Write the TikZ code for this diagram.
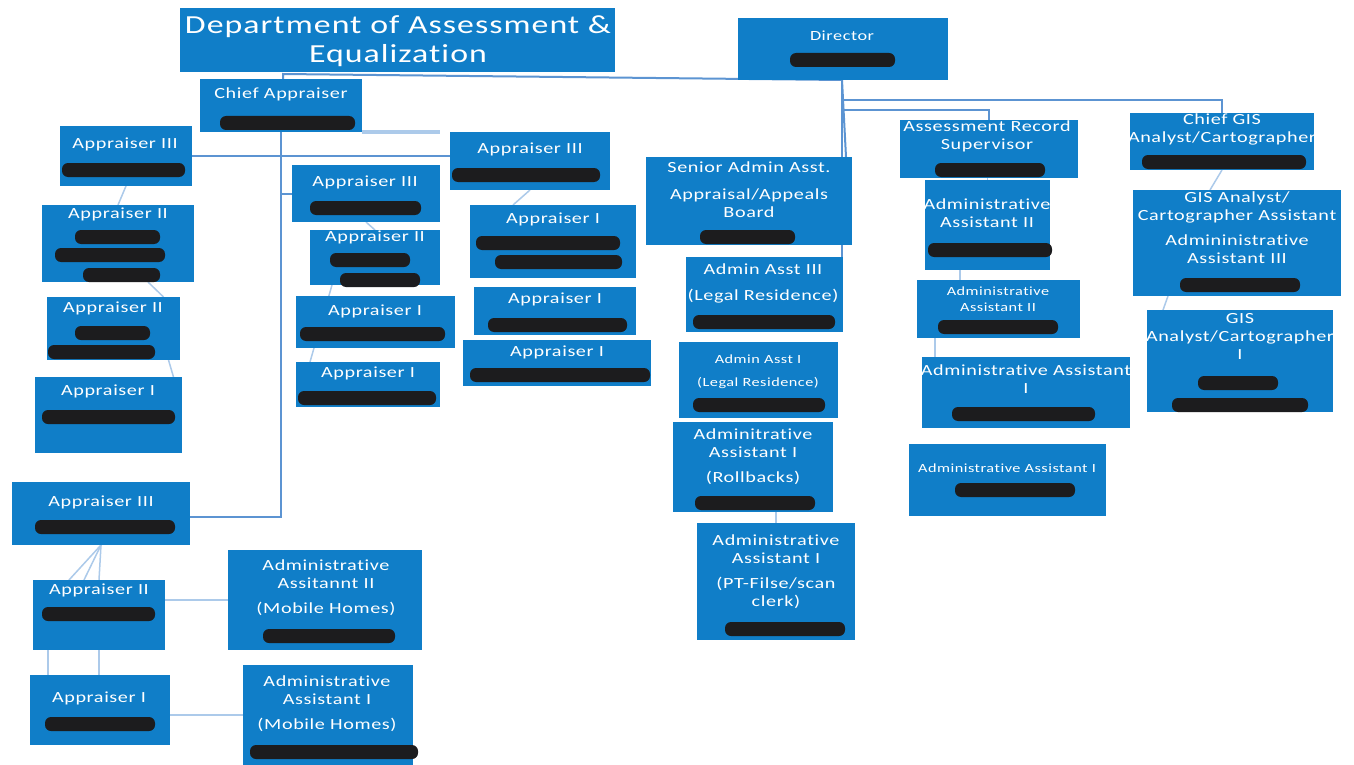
\documentclass[tikz,border=0pt]{standalone}
\usepackage{fontspec}
\newfontfamily\orgfont{Carlito}[FakeStretch=1.3,LetterSpace=4,Ligatures=NoCommon]
\usetikzlibrary{calc}

\definecolor{boxblue}{RGB}{16,126,200}
\definecolor{linkblue}{RGB}{92,148,210}
\definecolor{paleblue}{RGB}{172,202,234}
\definecolor{inkblot}{RGB}{28,28,30}

\pgfdeclarelayer{links}
\pgfsetlayers{links,main}

\tikzset{
  obox/.style={fill=boxblue, draw=none, inner sep=0pt, outer sep=0pt},
  otext/.style={text=white, align=center, inner sep=0pt, anchor=north,
                font=\orgfont\fontsize{15.5}{18}\selectfont},
  smalltext/.style={otext, font=\orgfont\fontsize{12.5}{16}\selectfont},
  mainlink/.style={draw=linkblue, line width=2pt},
  palelink/.style={draw=paleblue, line width=1.5pt},
  redact/.style={fill=inkblot, rounded corners=6pt},
}

% box from its corners: name, left, top, right, bottom
\newcommand\orgbox[5]{\node[obox, minimum width={(#4)-(#2)}, minimum height={(#5)-(#3)}]
  (#1) at ({((#2)+(#4))/2},{((#3)+(#5))/2}) {};}
% blacked-out name: left, right, centre line
\newcommand\inkbar[3]{\fill[redact] (#1,{(#3)-7}) rectangle (#2,{(#3)+7});}

\begin{document}
\begin{tikzpicture}[x=1pt,y=-1pt]
\useasboundingbox (0,0) rectangle (1354,765);

% ---------- boxes ----------
\orgbox{title}{180}{8}{615}{72}
\orgbox{dir}{738}{18}{948}{80}
\orgbox{ca}{200}{79}{362}{132}
\orgbox{lA}{60}{126}{192}{186}
\orgbox{lB}{42}{205}{194}{282}
\orgbox{lC}{47}{297}{180}{360}
\orgbox{lD}{35}{377}{182}{453}
\orgbox{bA}{12}{482}{190}{545}
\orgbox{bB}{33}{580}{165}{650}
\orgbox{bC}{30}{675}{170}{745}
\orgbox{mhA}{228}{550}{422}{650}
\orgbox{mhB}{243}{665}{413}{765}
\orgbox{cA}{292}{165}{440}{222}
\orgbox{cB}{310}{230}{440}{285}
\orgbox{cC}{296}{296}{455}{348}
\orgbox{cD}{296}{362}{440}{407}
\orgbox{dA}{450}{132}{610}{190}
\orgbox{dB}{470}{205}{636}{278}
\orgbox{dC}{474}{287}{636}{335}
\orgbox{dD}{463}{340}{651}{386}
\orgbox{sA}{646}{157}{852}{245}
\orgbox{sB}{686}{257}{843}{332}
\orgbox{sC}{679}{342}{838}{418}
\orgbox{sD}{673}{422}{833}{512}
\orgbox{sE}{697}{523}{855}{640}
\orgbox{rA}{900}{120}{1078}{178}
\orgbox{rB}{925}{180}{1050}{270}
\orgbox{rC}{917}{280}{1080}{338}
\orgbox{rD}{922}{357}{1130}{428}
\orgbox{rE}{909}{444}{1106}{516}
\orgbox{gA}{1130}{113}{1314}{170}
\orgbox{gB}{1133}{190}{1341}{296}
\orgbox{gC}{1147}{310}{1333}{412}

% ---------- connectors (behind the boxes) ----------
\begin{pgfonlayer}{links}
\fill[white] (0,0) rectangle (1354,765);
\coordinate (jt) at (283,74);
\coordinate (jd) at (842,80);
\coordinate (jg) at (842,100);
\coordinate (ja) at (842,110);
\coordinate (jc) at (281,517);
\coordinate (jbar) at (440,132);
\draw[mainlink] (jt |- ca.north) -- (jt) -- (jd);
\draw[mainlink] (jd) -- (jd |- sB.north);
\coordinate (sAr) at ($(sA.north)+(97,0)$);
\draw[mainlink] (jd) -- (sAr);
\draw[mainlink] (jg) -| (gA.north);
\draw[mainlink] (ja) -| (rA.north);
\draw[mainlink] (ca.south) -- (jc) -- (jc -| bA.east);
\draw[mainlink] (lA.east) -- (lA.east -| dA.west);
\draw[mainlink] (cA.west -| ca.south) -- (cA.west);
\draw[palelink, line width=4pt] (ca.south east) -- (jbar);

% left column
\draw[palelink] (lA.south) -- (lB.north);
\coordinate (k1) at ($(lB.south)+(30,0)$);
\coordinate (k2) at ($(lC.north)+(50,0)$);
\draw[palelink] (k1) -- (k2);
\coordinate (k3) at ($(lC.south)+(55,0)$);
\coordinate (k4) at ($(lD.north)+(65,0)$);
\draw[palelink] (k3) -- (k4);
% lower left group
\coordinate (k5) at ($(bB.north)+(-30,0)$);
\coordinate (k6) at ($(bB.north)+(-15,0)$);
\draw[palelink] (bA.south) -- (bB.north);
\draw[palelink] (bA.south) -- (k5);
\draw[palelink] (bA.south) -- (k6);
\coordinate (k7) at ($(bB.south west)+(15,0)$);
\draw[palelink] (bB.south) -- (bB.south |- bC.north);
\draw[palelink] (k7) -- (k7 |- bC.north);
\draw[palelink] (mhA.west) -- (mhA.west -| bB.east);
\draw[palelink] (mhB.west) -- (mhB.west -| bC.east);
% second column
\draw[palelink] (cA.south) -- (cB.north);
\coordinate (k8) at ($(cB.south west)+(22,0)$);
\coordinate (k9) at ($(cD.north west)+(14,0)$);
\draw[palelink] (k8) -- (k9);
% third column
\coordinate (k10) at ($(dB.north)+(-40,0)$);
\draw[palelink] (dA.south) -- (k10);
% admin column
\draw[palelink] (sE.north) -- (sE.north |- sD.south);
% records column
\draw[palelink] (rB.north) -- (rB.north |- rA.south);
\coordinate (k11) at ($(rB.south west)+(35,0)$);
\draw[palelink] (k11) -- (k11 |- rC.north);
\coordinate (k12) at ($(rC.south west)+(18,0)$);
\draw[palelink] (k12) -- (k12 |- rD.north);
% GIS column
\coordinate (k13) at ($(gB.north)+(-27,0)$);
\draw[palelink] (gA.south) -- (k13);
\coordinate (k14) at ($(gB.south west)+(35,0)$);
\coordinate (k15) at ($(gC.north west)+(16,0)$);
\draw[palelink] (k14) -- (k15);
\end{pgfonlayer}

% ---------- titles ----------
\node[otext, font=\orgfont\fontsize{26}{29}\selectfont] (title-t) at (398,15) {Department of Assessment \&\\Equalization};
\node[otext, font=\orgfont\fontsize{14}{17}\selectfont] (dir-t) at (842,31) {Director};
\node[otext] (ca-t) at (281,88) {Chief Appraiser};
\node[otext] (lA-t) at (125,138) {Appraiser III};
\node[otext] (lB-t) at (118,208) {Appraiser II};
\node[otext] (lC-t) at (113,302) {Appraiser II};
\node[otext] (lD-t) at (108,385) {Appraiser I};
\node[otext] (bA-t) at (101,496) {Appraiser III};
\node[otext] (bB-t) at (99,584) {Appraiser II};
\node[otext] (bC-t) at (99,692) {Appraiser I};
\node[otext] (mhA-t) at (326,560) {Administrative\\Assitannt II\\[7pt](Mobile Homes)};
\node[otext] (mhB-t) at (327,676) {Administrative\\Assistant I\\[7pt](Mobile Homes)};
\node[otext] (cA-t) at (365,176) {Appraiser III};
\node[otext] (cB-t) at (375,231) {Appraiser II};
\node[otext] (cC-t) at (375,305) {Appraiser I};
\node[otext] (cD-t) at (368,367) {Appraiser I};
\node[otext] (dA-t) at (530,143) {Appraiser III};
\node[otext] (dB-t) at (553,213) {Appraiser I};
\node[otext] (dC-t) at (555,293) {Appraiser I};
\node[otext] (dD-t) at (557,346) {Appraiser I};
\node[otext] (sA-t) at (749,162) {Senior Admin Asst.\\[9pt]Appraisal/Appeals\\Board};
\node[otext] (sB-t) at (763,264) {Admin Asst III\\[8pt](Legal Residence)};
\node[smalltext] (sC-t) at (758,355) {Admin Asst I\\[7pt](Legal Residence)};
\node[otext] (sD-t) at (753,429) {Adminitrative\\Assistant I\\[7pt](Rollbacks)};
\node[otext] (sE-t) at (776,535) {Administrative\\Assistant I\\[7pt](PT-Filse/scan\\clerk)};
\node[otext] (rA-t) at (987,121) {Assessment Record\\Supervisor};
\node[otext] (rB-t) at (987,199) {Administrative\\Assistant II};
\node[smalltext] (rC-t) at (998,287) {Administrative\\Assistant II};
\node[otext] (rD-t) at (1026,365) {Administrative Assistant\\I};
\node[smalltext] (rE-t) at (1007,464) {Administrative Assistant I};
\node[otext] (gA-t) at (1222,114) {Chief GIS\\Analyst/Cartographer};
\node[otext] (gB-t) at (1237,192) {GIS Analyst/\\Cartographer Assistant\\[7pt]Admininistrative\\Assistant III};
\node[otext] (gC-t) at (1240,313) {GIS\\Analyst/Cartographer\\I};

% ---------- blacked-out names ----------
\inkbar{790}{895}{60}
\inkbar{220}{355}{123}
\inkbar{62}{185}{170}
\inkbar{75}{160}{237}
\inkbar{55}{165}{255}
\inkbar{83}{160}{275}
\inkbar{75}{150}{333}
\inkbar{48}{155}{352}
\inkbar{42}{175}{417}
\inkbar{35}{175}{527}
\inkbar{42}{155}{614}
\inkbar{45}{155}{724}
\inkbar{263}{395}{636}
\inkbar{250}{418}{752}
\inkbar{310}{421}{208}
\inkbar{330}{410}{260}
\inkbar{340}{420}{280}
\inkbar{300}{445}{334}
\inkbar{298}{436}{398}
\inkbar{452}{600}{175}
\inkbar{476}{620}{243}
\inkbar{495}{622}{262}
\inkbar{488}{627}{325}
\inkbar{470}{650}{375}
\inkbar{700}{795}{237}
\inkbar{693}{835}{322}
\inkbar{693}{825}{405}
\inkbar{695}{815}{503}
\inkbar{725}{845}{629}
\inkbar{935}{1045}{170}
\inkbar{928}{1052}{250}
\inkbar{938}{1058}{327}
\inkbar{952}{1095}{414}
\inkbar{955}{1075}{490}
\inkbar{1142}{1306}{162}
\inkbar{1180}{1300}{285}
\inkbar{1198}{1278}{383}
\inkbar{1172}{1308}{405}
\end{tikzpicture}
\end{document}
